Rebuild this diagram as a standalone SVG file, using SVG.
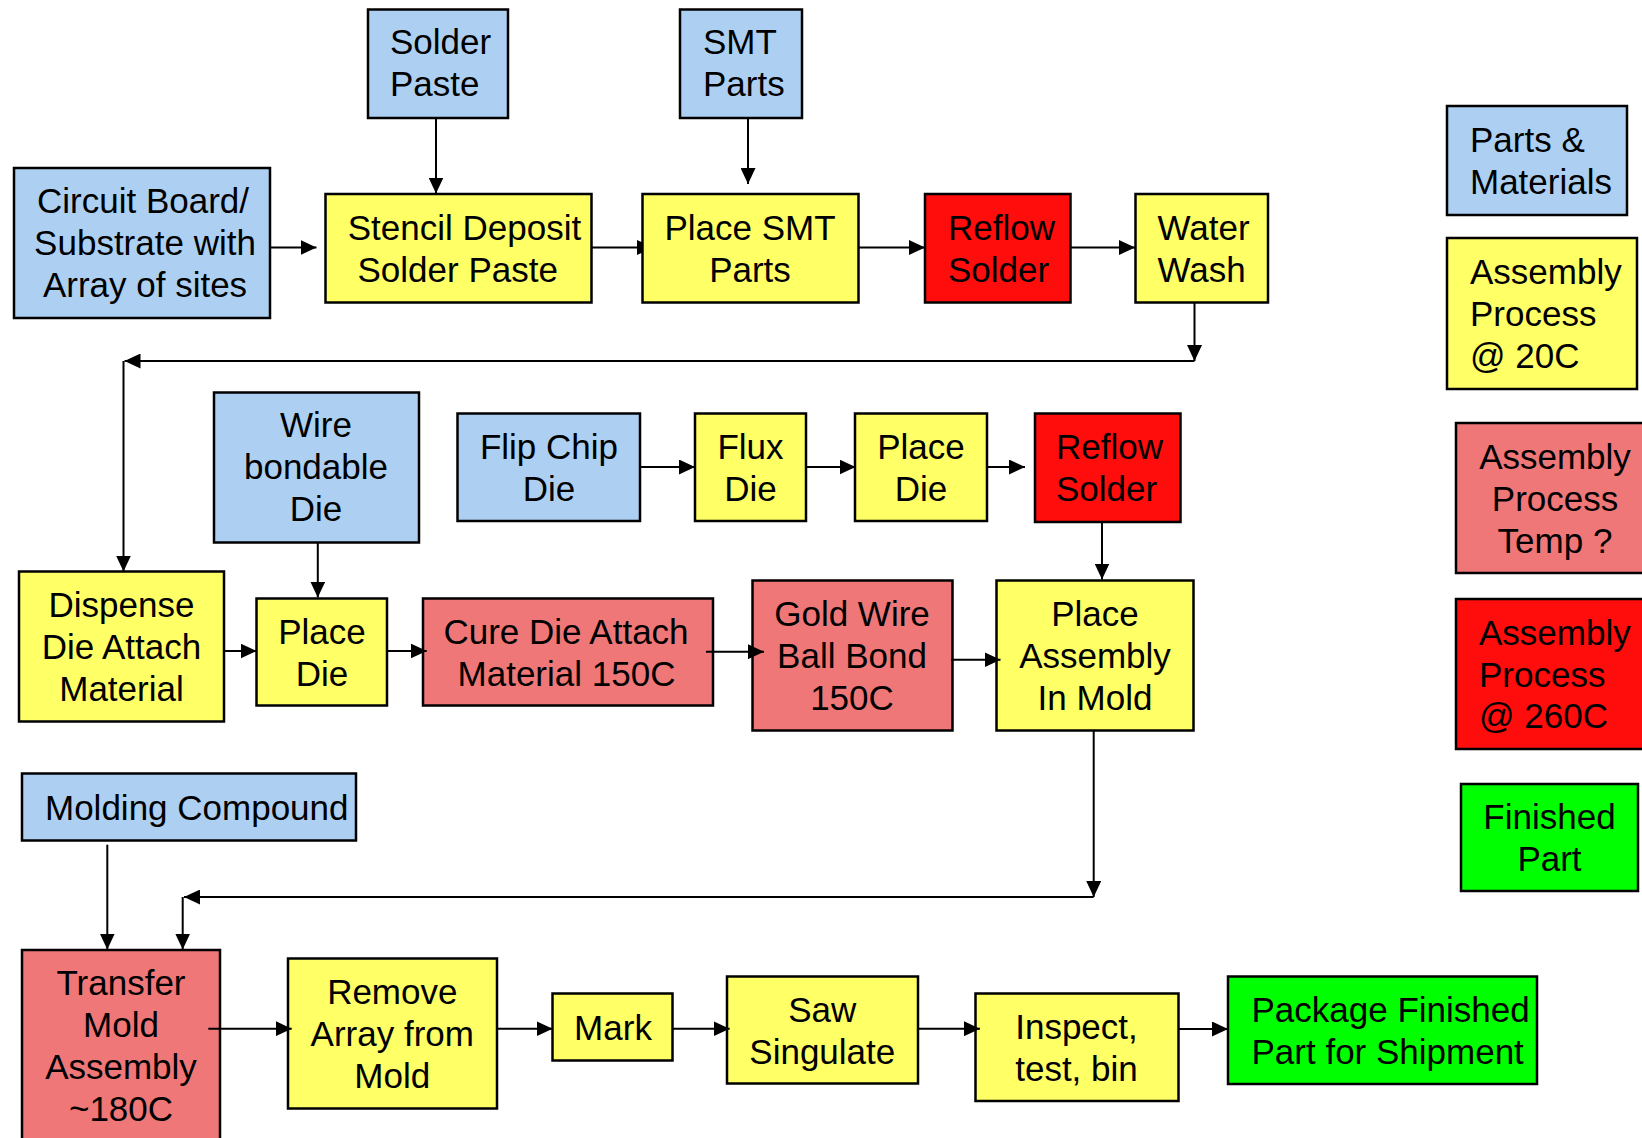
<svg xmlns="http://www.w3.org/2000/svg" width="1642" height="1138" viewBox="0 0 1642 1138">
<defs>
<marker id="ah" markerUnits="userSpaceOnUse" markerWidth="16" markerHeight="15" refX="16" refY="7.5" orient="auto" viewBox="0 0 16 15">
<path d="M0,0 L16,7.5 L0,15 Z" fill="#000"/>
</marker>
<marker id="ahs" markerUnits="userSpaceOnUse" markerWidth="6" markerHeight="15" refX="5.5" refY="7.5" orient="auto" viewBox="0 0 6 15">
<path d="M0,0 L5.5,2.6 L5.5,12.4 L0,15 Z" fill="#000"/>
</marker>
<style>
.n{stroke:#000;stroke-width:2.5}
.pm{fill:#ADD0F2}
.ap{fill:#FFFF66}
.tq{fill:#F07777}
.hi{fill:#FF0C0C}
.fp{fill:#00FF00}
text{font-family:"Liberation Sans",Arial,Helvetica,sans-serif;font-size:35px;fill:#000}
.m{text-anchor:middle}
.s{text-anchor:start}
.c{fill:none;stroke:#000;stroke-width:2;marker-end:url(#ah)}
.cs{fill:none;stroke:#000;stroke-width:2;marker-end:url(#ahs)}
</style>
</defs>
<rect width="1642" height="1138" fill="#fff"/>
<g id="solder-paste"><rect class="n pm" x="368" y="9.5" width="140" height="108.5"/><text class="s" x="390" y="54">Solder</text><text class="s" x="390" y="96">Paste</text></g>
<g id="smt-parts"><rect class="n pm" x="680" y="9.5" width="122" height="108.5"/><text class="s" x="703" y="54">SMT</text><text class="s" x="703" y="96">Parts</text></g>
<g id="circuit-board"><rect class="n pm" x="14" y="168" width="256" height="150"/><text class="m" x="143" y="212.5">Circuit Board/</text><text class="m" x="145" y="254.5">Substrate with</text><text class="m" x="145" y="296.5">Array of sites</text></g>
<g id="stencil"><rect class="n ap" x="325.5" y="194" width="266" height="108.5"/><text class="m" x="464.5" y="239.5">Stencil Deposit</text><text class="m" x="457.7" y="281.5">Solder Paste</text></g>
<g id="place-smt"><rect class="n ap" x="642.5" y="194" width="216" height="108.5"/><text class="m" x="750" y="239.5">Place SMT</text><text class="m" x="750" y="281.5">Parts</text></g>
<g id="reflow-1"><rect class="n hi" x="925" y="194" width="145.5" height="108.5"/><text class="s" x="948" y="239.5">Reflow</text><text class="s" x="948" y="281.5">Solder</text></g>
<g id="water-wash"><rect class="n ap" x="1135.5" y="194" width="132.5" height="108.5"/><text class="s" x="1157.5" y="239.5">Water</text><text class="s" x="1157.5" y="281.5">Wash</text></g>
<g id="wire-die"><rect class="n pm" x="214" y="392.5" width="205" height="150"/><text class="m" x="316" y="437">Wire</text><text class="m" x="316" y="479">bondable</text><text class="m" x="316" y="521">Die</text></g>
<g id="flip-chip"><rect class="n pm" x="457.5" y="413.5" width="182.5" height="107.5"/><text class="m" x="549" y="458.5">Flip Chip</text><text class="m" x="549" y="500.5">Die</text></g>
<g id="flux-die"><rect class="n ap" x="695" y="413.5" width="111" height="107.5"/><text class="m" x="750.5" y="458.5">Flux</text><text class="m" x="750.5" y="500.5">Die</text></g>
<g id="place-die-2"><rect class="n ap" x="855" y="413.5" width="132" height="107.5"/><text class="m" x="921" y="458.5">Place</text><text class="m" x="921" y="500.5">Die</text></g>
<g id="reflow-2"><rect class="n hi" x="1035" y="413.5" width="145.5" height="108.5"/><text class="s" x="1056" y="459">Reflow</text><text class="s" x="1056" y="501">Solder</text></g>
<g id="dispense"><rect class="n ap" x="19" y="571.5" width="205" height="150"/><text class="m" x="121.5" y="617">Dispense</text><text class="m" x="121.5" y="659">Die Attach</text><text class="m" x="121.5" y="701">Material</text></g>
<g id="place-die"><rect class="n ap" x="256.5" y="598.5" width="130.5" height="107"/><text class="m" x="322" y="643.5">Place</text><text class="m" x="322" y="685.5">Die</text></g>
<g id="cure"><rect class="n tq" x="423" y="598.5" width="290" height="107"/><text class="m" x="566" y="643.5">Cure Die Attach</text><text class="m" x="566.5" y="685.5">Material 150C</text></g>
<g id="gold-wire"><rect class="n tq" x="752.5" y="580.5" width="200" height="150"/><text class="m" x="852" y="626">Gold Wire</text><text class="m" x="852" y="668">Ball Bond</text><text class="m" x="852" y="710">150C</text></g>
<g id="place-assembly"><rect class="n ap" x="996.5" y="580.5" width="197" height="150"/><text class="m" x="1095" y="626">Place</text><text class="m" x="1095" y="668">Assembly</text><text class="m" x="1095" y="710">In Mold</text></g>
<g id="molding"><rect class="n pm" x="22" y="773.5" width="334" height="67"/><text class="s" x="45" y="819.5">Molding Compound</text></g>
<g id="transfer-mold"><rect class="n tq" x="22" y="950" width="198" height="200"/><text class="m" x="121" y="995">Transfer</text><text class="m" x="121" y="1037">Mold</text><text class="m" x="121" y="1079">Assembly</text><text class="m" x="121" y="1121">~180C</text></g>
<g id="remove"><rect class="n ap" x="288" y="958.5" width="209" height="150"/><text class="m" x="392.3" y="1004">Remove</text><text class="m" x="392.3" y="1046">Array from</text><text class="m" x="392.3" y="1088">Mold</text></g>
<g id="mark"><rect class="n ap" x="552.5" y="993.5" width="120" height="67"/><text class="m" x="613" y="1039.5">Mark</text></g>
<g id="saw"><rect class="n ap" x="727" y="976.5" width="191" height="107"/><text class="m" x="822.3" y="1021.5">Saw</text><text class="m" x="822.3" y="1063.5">Singulate</text></g>
<g id="inspect"><rect class="n ap" x="975.5" y="993.5" width="203" height="107.5"/><text class="m" x="1076.5" y="1038.7">Inspect,</text><text class="m" x="1076.5" y="1080.7">test, bin</text></g>
<g id="package"><rect class="n fp" x="1228" y="976.5" width="309" height="107.5"/><text class="s" x="1251.5" y="1021.8">Package Finished</text><text class="s" x="1251.5" y="1063.8">Part for Shipment</text></g>
<g id="legend-parts"><rect class="n pm" x="1447" y="106" width="180" height="109"/><text class="s" x="1470" y="151.5">Parts &amp;</text><text class="s" x="1470" y="193.5">Materials</text></g>
<g id="legend-20c"><rect class="n ap" x="1447" y="238" width="190" height="151"/><text class="s" x="1470" y="284">Assembly</text><text class="s" x="1470" y="326">Process</text><text class="s" x="1470" y="368">@ 20C</text></g>
<g id="legend-temp"><rect class="n tq" x="1456" y="423" width="200" height="150"/><text class="m" x="1555" y="468.5">Assembly</text><text class="m" x="1555" y="510.5">Process</text><text class="m" x="1555" y="552.5">Temp ?</text></g>
<g id="legend-260c"><rect class="n hi" x="1456" y="599" width="200" height="150"/><text class="s" x="1479" y="645">Assembly</text><text class="s" x="1479" y="686.5">Process</text><text class="s" x="1479" y="728">@ 260C</text></g>
<g id="legend-finished"><rect class="n fp" x="1461" y="784" width="177" height="107"/><text class="m" x="1549.5" y="828.5">Finished</text><text class="m" x="1549.5" y="870.5">Part</text></g>
<g id="connectors">
<path class="c" d="M270,247.5 H316.5"/>
<path class="c" d="M436,118 V193.5"/>
<path class="cs" d="M591.5,247.5 H642.5"/>
<path class="c" d="M748,118 V184"/>
<path class="c" d="M858.5,247.5 H925"/>
<path class="c" d="M1070.5,247.5 H1135"/>
<path class="c" d="M1194.5,302.5 V361"/>
<path class="c" d="M1194.5,361 H124.5"/>
<path class="c" d="M123.5,361 V571.5"/>
<path class="c" d="M317.8,542.7 V597.5"/>
<path class="c" d="M224.3,651 H256.5"/>
<path class="c" d="M386,651 H426.7"/>
<path class="c" d="M640,467 H695"/>
<path class="c" d="M806,467 H855.5"/>
<path class="c" d="M987,467 H1025"/>
<path class="c" d="M1102,522.3 V579.5"/>
<path class="c" d="M706,651.7 H764"/>
<path class="c" d="M951,659.7 H1000.5"/>
<path class="c" d="M1093.7,730.3 V897"/>
<path class="c" d="M1093.7,897 H184"/>
<path class="c" d="M182.7,897 V949.5"/>
<path class="c" d="M107.3,844.7 V949.5"/>
<path class="c" d="M208.3,1028.7 H291.7"/>
<path class="c" d="M497,1028.7 H552.6"/>
<path class="c" d="M672.4,1028.7 H729.6"/>
<path class="c" d="M917.8,1028.7 H980"/>
<path class="c" d="M1178.7,1029 H1228"/>
</g>
</svg>
